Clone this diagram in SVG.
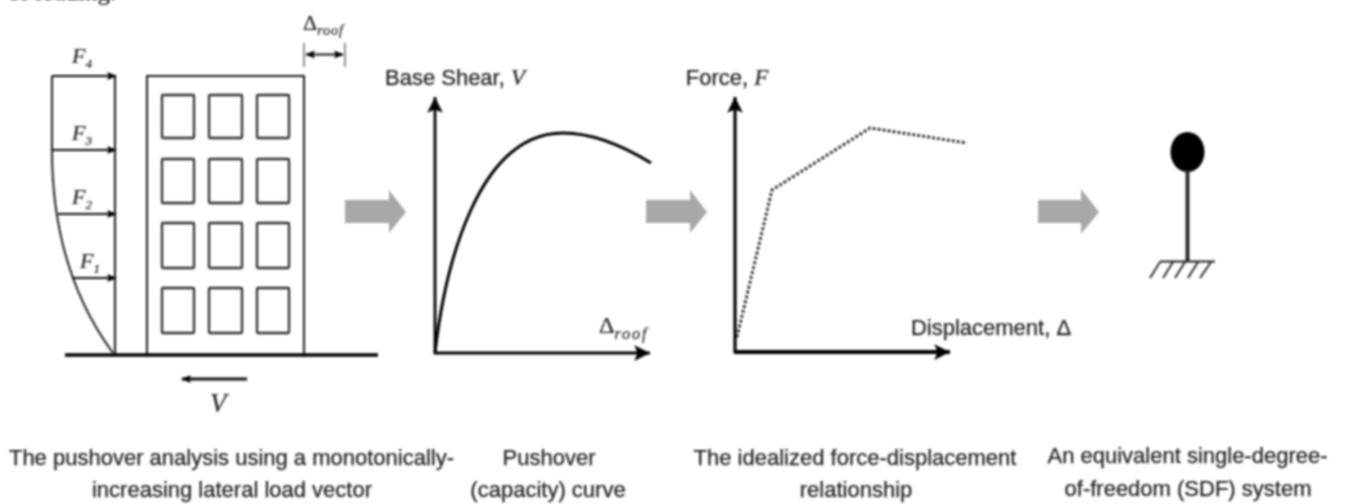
<svg xmlns="http://www.w3.org/2000/svg" width="1345" height="504" viewBox="0 0 1345 504">
<defs>
<filter id="b" x="-5%" y="-5%" width="110%" height="110%"><feGaussianBlur stdDeviation="0.8"/></filter>
<marker id="ah" viewBox="0 0 10 10" refX="9" refY="5" markerWidth="10" markerHeight="10" markerUnits="userSpaceOnUse" orient="auto-start-reverse"><path d="M0 1L10 5L0 9L2 5z" fill="#000"/></marker>
<marker id="ab" viewBox="0 0 16 16" refX="15" refY="8" markerWidth="18" markerHeight="18" markerUnits="userSpaceOnUse" orient="auto"><path d="M1 1L15 8L1 15L4 8z" fill="#000"/></marker>
</defs>
<style>
.l{fill:none;stroke:#222;stroke-width:2}
.a{fill:none;stroke:#111;stroke-width:2.2;marker-end:url(#ah)}
.ax{fill:none;stroke:#000;stroke-width:2.8;marker-end:url(#ab)}
.w{fill:none;stroke:#333;stroke-width:2.3}
.g{fill:#a8a8a8}
.t{font-family:"Liberation Sans",Arial,sans-serif;font-size:22px;fill:#222;stroke:#222;stroke-width:.25;text-anchor:middle}
.m{font-family:"Liberation Serif","Times New Roman",serif;font-style:italic;font-size:22px;fill:#222;stroke:#222;stroke-width:.2}
.u{font-style:normal}
.s{font-size:13px;letter-spacing:1px}
</style>
<g filter="url(#b)">
<text x="8" y="0" font-family="Liberation Serif,serif" font-size="25" fill="#000">of loading.</text>
<g id="load-vector">
<path class="l" d="M115 76V355"/>
<path class="l" d="M52 76V150Q52 270 113 353"/>
<path class="a" d="M52 76H116"/><path class="a" d="M52 150H116"/><path class="a" d="M58 214H116"/><path class="a" d="M72 278H116"/>
<text class="m" x="72" y="63">F<tspan class="s" dy="5">4</tspan></text>
<text class="m" x="72" y="140">F<tspan class="s" dy="5">3</tspan></text>
<text class="m" x="72" y="204">F<tspan class="s" dy="5">2</tspan></text>
<text class="m" x="80" y="268">F<tspan class="s" dy="5">1</tspan></text>
</g>
<g id="building">
<rect class="l" x="147" y="76" width="157" height="279"/>
<g class="w">
<rect x="162" y="95" width="32" height="43" rx="1"/><rect x="209" y="95" width="33" height="43" rx="1"/><rect x="257" y="95" width="32" height="43" rx="1"/>
<rect x="162" y="159" width="32" height="44" rx="1"/><rect x="209" y="159" width="33" height="44" rx="1"/><rect x="257" y="159" width="32" height="44" rx="1"/>
<rect x="162" y="223" width="32" height="45" rx="1"/><rect x="209" y="223" width="33" height="45" rx="1"/><rect x="257" y="223" width="32" height="45" rx="1"/>
<rect x="162" y="288" width="32" height="45" rx="1"/><rect x="209" y="288" width="33" height="45" rx="1"/><rect x="257" y="288" width="32" height="45" rx="1"/>
</g>
<path d="M65 355H378" stroke="#000" stroke-width="3.6" fill="none"/>
<path class="a" d="M247 379H182" style="stroke-width:3"/>
<text class="m" x="210" y="412" style="font-size:27px">V</text>
</g>
<g id="roof-disp">
<path d="M304 43V67M345 43V67" stroke="#666" stroke-width="1.4" fill="none"/>
<path class="a" d="M306 54.500H343" style="marker-start:url(#ah)"/>
<text class="m" x="303" y="30"><tspan class="u">Δ</tspan><tspan class="s" dy="5" style="font-size:14px">roof</tspan></text>
</g>
<g id="connectors">
<path class="g" d="M345 200H389V190L406 212L389 233V223H345z"/>
<path class="g" d="M646 200H690V190L707 212L690 233V223H646z"/>
<path class="g" d="M1038 200H1081V189L1099 212L1081 234V223H1038z"/>
</g>
<g id="pushover-curve">
<path class="ax" d="M435 354V97"/><path class="ax" d="M434 353H650"/>
<path d="M435 353C445 265 478 133 563 133C595 133 625 147 651 163" fill="none" stroke="#000" stroke-width="3"/>
<text class="t" x="455" y="85">Base Shear, <tspan class="m" style="font-size:23px">V</tspan></text>
<text class="m" x="599" y="333" style="font-size:24px"><tspan class="u">Δ</tspan><tspan class="s" dy="6" style="font-size:16px;letter-spacing:2px">roof</tspan></text>
</g>
<g id="idealized">
<path class="ax" d="M735 353V97" style="stroke-width:3.2"/><path class="ax" d="M734 352H950" style="stroke-width:3.8"/>
<path d="M737 337L772 190L870 128L967 143" fill="none" stroke="#111" stroke-width="2.8" stroke-dasharray="2.600 2.400"/>
<text class="t" x="727" y="85">Force, <tspan class="m" style="font-size:23px">F</tspan></text>
<text class="t" x="991" y="335">Displacement, Δ</text>
</g>
<g id="sdf">
<ellipse cx="1187.500" cy="152" rx="17" ry="20" fill="#000"/>
<path d="M1187.500 170V262" stroke="#222" stroke-width="3.800" fill="none"/>
<path d="M1160 261.500H1215M1160 262L1150 278M1173 262L1163 278M1185 262L1175 278M1198 262L1188 278M1211 262L1200 278" stroke="#222" stroke-width="1.8" fill="none"/>
</g>
<g id="captions">
<text class="t" x="231.500" y="465">The pushover analysis using a monotonically-</text>
<text class="t" x="232" y="497">increasing lateral load vector</text>
<text class="t" x="549" y="465">Pushover</text>
<text class="t" x="548" y="497">(capacity) curve</text>
<text class="t" x="855" y="465">The idealized force-displacement</text>
<text class="t" x="856" y="497">relationship</text>
<text class="t" x="1187.500" y="463">An equivalent single-degree-</text>
<text class="t" x="1188" y="496">of-freedom (SDF) system</text>
</g>
</g>
</svg>
